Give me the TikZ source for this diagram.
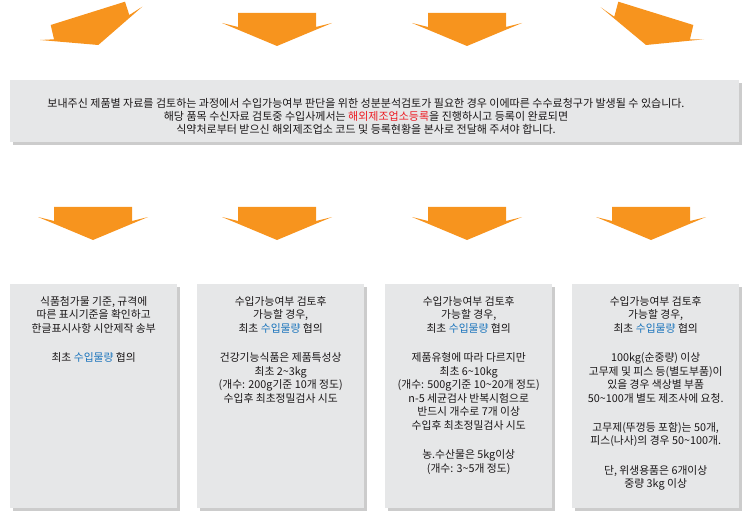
\documentclass[tikz,border=0pt]{standalone}
\usepackage{fontspec}
\setmainfont{Noto Sans CJK KR}
\usepackage{tikz}
\usetikzlibrary{positioning,shadows}

\definecolor{arroworange}{HTML}{F7941E}
\definecolor{panelgray}{HTML}{E6E7E8}
\definecolor{textgray}{HTML}{1A1718}
\definecolor{keyblue}{HTML}{1C75BC}
\definecolor{keyred}{HTML}{ED1C24}

\newcommand{\keyword}[1]{\textcolor{keyblue}{#1}}
\newcommand{\gap}{\\[15.5pt]}
\newcommand{\tl}{\textasciitilde}

\begin{document}
\begin{tikzpicture}[%
    x=1pt, y=-1pt,
    panel/.style={fill=panelgray, anchor=north west, inner sep=0pt,
        drop shadow={shadow xshift=2.5pt, shadow yshift=-2.5pt, opacity=0.4}},
    stepbox/.style={panel, minimum width=167pt, minimum height=224pt},
    paneltext/.style={align=center, inner sep=0pt, text=textgray,
        font=\fontsize{10.8}{13.6}\selectfont},
    downarrow/.pic={\fill[arroworange] (-55,-23) -- (-39,-19) -- (-39,-33)
        -- (39,-33) -- (39,-19) -- (55,-23) -- (0,0) -- cycle;}
    ]

    \useasboundingbox (0,0) rectangle (751,521);

    \fill[arroworange] (50.7,25) -- (125,1.7) -- (129.3,15) -- (142.3,6.7)
        -- (98.3,45) -- (40,40) -- (54,39.3) -- cycle;
    \fill[arroworange] (600.7,7.3) -- (614.3,16.7) -- (618.3,1.7) -- (693.3,25)
        -- (690,39.3) -- (704,39.3) -- (646,45) -- cycle;
    \foreach \tx in {277,467}
        \pic at (\tx,46) {downarrow};

    \node[panel, minimum width=729pt, minimum height=62pt] (banner) at (10,80) {};
    \node[paneltext, font=\fontsize{11}{13}\selectfont] (notice) at (366,116)
        {보내주신 제품별 자료를 검토하는 과정에서 수입가능여부 판단을 위한 성분분석검토가 필요한 경우 이에따른 수수료청구가 발생될 수 있습니다.\\
        해당 품목 수신자료 검토중 수입사께서는 \textcolor{keyred}{해외제조업소등록}을 진행하시고 등록이 완료되면\\
        식약처로부터 받으신 해외제조업소 코드 및 등록현황을 본사로 전달해 주셔야 합니다.};

    \foreach \tx in {93,277,467,651}
        \pic at (\tx,240) {downarrow};

    \node[stepbox] (box1) at (10,284) {};
    \node[stepbox] (box2) at (197,284) {};
    \node[stepbox] (box3) at (385,284) {};
    \node[stepbox] (box4) at (572,284) {};

    \node[paneltext, below=12pt of box1.north] (text1)
        {식품첨가물 기준, 규격에\\ 따른 표시기준을 확인하고\\ 한글표시사항 시안제작 송부\gap
        최초 \keyword{수입물량} 협의};
    \node[paneltext, below=12pt of box2.north] (text2)
        {수입가능여부 검토후\\ 가능할 경우,\\ 최초 \keyword{수입물량} 협의\gap
        건강기능식품은 제품특성상\\ 최초 2\tl3kg\\ (개수: 200g기준 10개 정도)\\
        수입후 최초정밀검사 시도};
    \node[paneltext, below=12pt of box3.north] (text3)
        {수입가능여부 검토후\\ 가능할 경우,\\ 최초 \keyword{수입물량} 협의\gap
        제품유형에 따라 다르지만\\ 최초 6\tl10kg\\ (개수: 500g기준 10\tl20개 정도)\\
        n-5 세균검사 반복시험으로\\ 반드시 개수로 7개 이상\\ 수입후 최초정밀검사 시도\gap
        농.수산물은 5kg이상\\ (개수: 3\tl5개 정도)};
    \node[paneltext, below=12pt of box4.north] (text4)
        {수입가능여부 검토후\\ 가능할 경우,\\ 최초 \keyword{수입물량} 협의\gap
        100kg(순중량) 이상\\ 고무제 및 피스 등(별도부품)이\\ 있을 경우 색상별 부품\\
        50\tl100개 별도 제조사에 요청.\gap
        고무제(뚜껑등 포함)는 50개,\\ 피스(나사)의 경우 50\tl100개.\gap
        단, 위생용품은 6개이상\\ 중량 3kg 이상};

\end{tikzpicture}
\end{document}
